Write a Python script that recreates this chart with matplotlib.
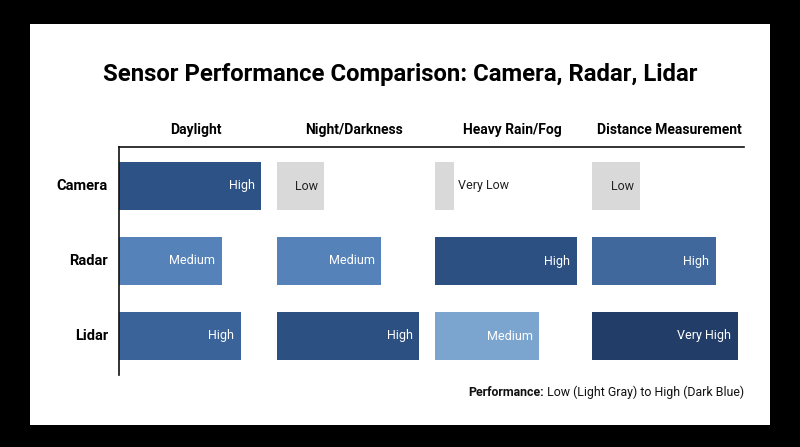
import matplotlib.pyplot as plt
from matplotlib.patches import Rectangle

plt.rcParams['font.family'] = ['Roboto', 'DejaVu Sans']

sensors = ['Camera', 'Radar', 'Lidar']
conditions = ['Daylight', 'Night/Darkness', 'Heavy Rain/Fog', 'Distance Measurement']

# scores (0-100)
camera = [90, 30, 12, 30]
radar = [65, 66, 90, 78]
lidar = [77, 90, 66, 92]

camera_lbl = ['High', 'Low', 'Very Low', 'Low']
radar_lbl = ['Medium', 'Medium', 'High', 'High']
lidar_lbl = ['High', 'High', 'Medium', 'Very High']

camera_col = ['#2d5285', '#d9d9d9', '#d9d9d9', '#d9d9d9']
radar_col = ['#5583b9', '#5583b9', '#2c5081', '#41689c']
lidar_col = ['#3a639a', '#2c5081', '#7ba5cf', '#223d68']

values = [camera, radar, lidar]
labels = [camera_lbl, radar_lbl, lidar_lbl]
colors = [camera_col, radar_col, lidar_col]

fig = plt.figure(figsize=(8, 4.47), dpi=100, facecolor='black')
# white card
fig.patches.append(Rectangle((30 / 800, 22 / 447), 740 / 800, 401 / 447,
                             transform=fig.transFigure, facecolor='white',
                             edgecolor='none', zorder=0))

ax = fig.add_axes([119 / 800, 72 / 447, 625 / 800, 228 / 447])
ax.set_zorder(2)
ax.set_facecolor('white')
ax.set_xlim(0, 396)
ax.set_ylim(2.52, -0.52)

col_w = 100
for r, sensor in enumerate(sensors):
    for c in range(len(conditions)):
        v = values[r][c]
        x0 = c * col_w
        ax.barh(r, v, left=x0, height=0.64, color=colors[r][c], edgecolor='none')
        dark = colors[r][c] == '#d9d9d9'
        txt_color = '#222222' if dark else 'white'
        if v < 20:
            ax.text(x0 + v + 3, r, labels[r][c], ha='left', va='center',
                    fontsize=9, color=txt_color)
        else:
            ax.text(x0 + v - 4, r, labels[r][c], ha='right', va='center',
                    fontsize=9, color=txt_color)
    ax.text(-7, r, sensor, ha='right', va='center', fontsize=10.5,
            fontweight='bold', color='black')

for c, cond in enumerate(conditions):
    ax.text(c * col_w + 49, -0.75, cond, ha='center', va='center',
            fontsize=10, fontweight='bold', color='black', clip_on=False)

for s in ['right', 'bottom']:
    ax.spines[s].set_visible(False)
for s in ['left', 'top']:
    ax.spines[s].set_linewidth(1.2)
    ax.spines[s].set_color('#111111')
ax.set_xticks([])
ax.set_yticks([])

fig.text(0.5, (447 - 74) / 447, 'Sensor Performance Comparison: Camera, Radar, Lidar',
         ha='center', va='center', fontsize=17.2, fontweight='bold', color='black')

# footnote: bold lead-in + regular text, right aligned
foot_y = (447 - 392) / 447
t2 = fig.text(744 / 800, foot_y, ' Low (Light Gray) to High (Dark Blue)',
              ha='right', va='center', fontsize=8.9, color='#111111')
fig.canvas.draw()
bb = t2.get_window_extent()
fig.text(bb.x0 / fig.bbox.width, foot_y, 'Performance:', ha='right', va='center',
         fontsize=8.9, fontweight='bold', color='#111111')

fig.savefig('out.png', dpi=100, facecolor='black')
